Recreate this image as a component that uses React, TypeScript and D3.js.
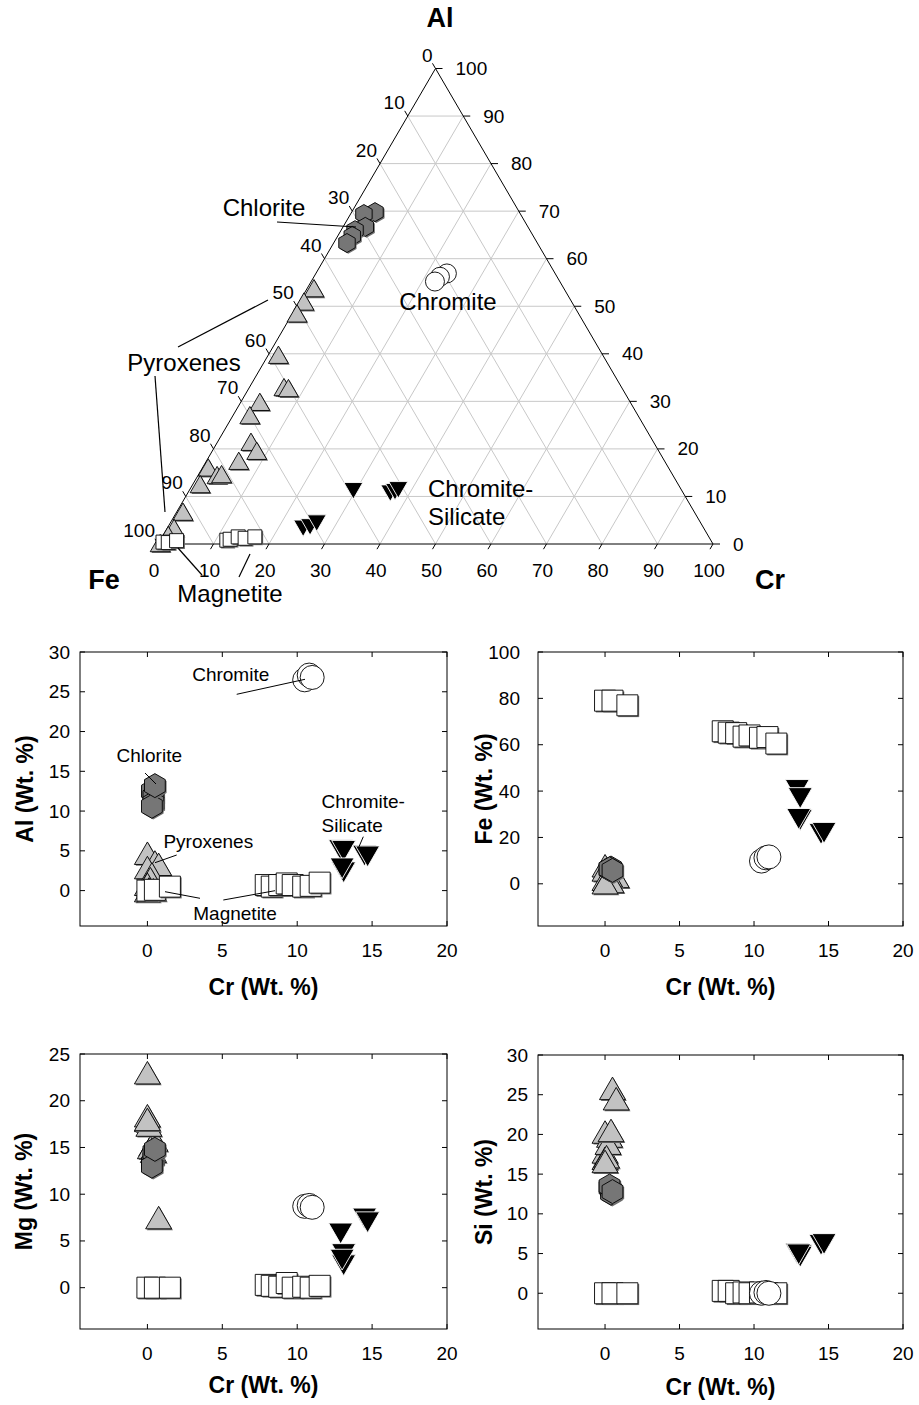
import React from 'react';
import * as d3 from 'd3';

const FONT = '"Liberation Sans", Arial, Helvetica, sans-serif';
const W = 919;
const H = 1405;

// ---------- Ternary compositions, [Al, Cr, Fe] in percent ----------
const ternPyroxenes: [number, number, number][] = [
  [53.8, 1.2, 45.0], [51.0, 0.8, 48.2], [48.5, 0.8, 50.7], [39.8, 1.8, 58.4],
  [33.0, 6.2, 60.8], [32.8, 7.1, 60.1], [29.9, 3.4, 66.7], [27.1, 3.0, 69.9],
  [21.5, 6.0, 72.5], [19.6, 8.0, 72.4], [17.5, 5.8, 76.7], [16.1, 1.0, 82.9],
  [14.5, 3.4, 82.1], [14.7, 4.1, 81.2], [12.6, 1.3, 86.1], [6.8, 1.1, 92.1],
  [3.4, 1.2, 95.4], [1.9, 0.9, 97.2], [0.2, 0.3, 99.5],
];
const ternChlorite: [number, number, number][] = [
  [69.8, 4.2, 26.0], [69.4, 2.4, 28.2], [66.7, 4.0, 29.3],
  [66.0, 2.5, 31.5], [64.8, 2.6, 32.6], [63.3, 2.4, 34.3],
];
const ternMagnetite: [number, number, number][] = [
  [0.4, 0.7, 98.9], [0.3, 1.7, 98.0], [0.7, 3.0, 96.3], [0.8, 12.0, 87.2],
  [1.0, 12.5, 86.5], [1.5, 13.7, 84.8], [1.2, 15.1, 83.7], [1.5, 16.7, 81.8],
];
const ternChromite: [number, number, number][] = [
  [56.9, 23.6, 19.5], [56.2, 22.7, 21.1], [55.2, 22.3, 22.5],
];
const ternChromSil: [number, number, number][] = [
  [11.2, 29.6, 59.2], [10.7, 36.5, 52.8], [11.0, 37.2, 51.8], [11.4, 37.6, 51.0],
  [3.3, 24.5, 72.2], [3.6, 25.6, 70.8], [4.4, 26.4, 69.2],
];
const ternTicks = [0, 10, 20, 30, 40, 50, 60, 70, 80, 90, 100];

// ---------- Spot analyses (Wt. %) ----------
type Analysis = { cr: number; al: number; fe: number; mg: number; si: number };

const pyroxenes: Analysis[] = [
  { cr: 0.0, al: 4.7, fe: 7.8, mg: 23.0, si: 20.3 },
  { cr: 0.5, al: 3.6, fe: 4.8, mg: 15.8, si: 25.8 },
  { cr: 0.75, al: 3.3, fe: 3.2, mg: 7.5, si: 24.5 },
  { cr: 0.0, al: 2.9, fe: 6.0, mg: 18.4, si: 17.8 },
  { cr: 0.3, al: 2.1, fe: 3.5, mg: 15.3, si: 19.8 },
  { cr: 0.2, al: 1.5, fe: 2.5, mg: 15.0, si: 18.9 },
  { cr: 0.0, al: 0.8, fe: 2.0, mg: 17.9, si: 17.0 },
  { cr: 0.1, al: 0.2, fe: 1.5, mg: 17.4, si: 17.2 },
  { cr: 0.4, al: 0.1, fe: 1.0, mg: 14.6, si: 20.5 },
  { cr: 0.0, al: 0.0, fe: 0.5, mg: 18.0, si: 16.6 },
];
const chlorite: Analysis[] = [
  { cr: 0.3, al: 12.5, fe: 6.2, mg: 13.3, si: 13.3 },
  { cr: 0.4, al: 11.8, fe: 6.8, mg: 13.8, si: 13.0 },
  { cr: 0.4, al: 11.0, fe: 6.0, mg: 14.5, si: 12.6 },
  { cr: 0.3, al: 10.6, fe: 6.5, mg: 13.0, si: 13.5 },
  { cr: 0.5, al: 13.2, fe: 5.8, mg: 14.8, si: 12.8 },
];
const magnetite: Analysis[] = [
  { cr: 0.0, al: 0.0, fe: 79.0, mg: 0.0, si: 0.0 },
  { cr: 0.5, al: 0.1, fe: 79.0, mg: 0.0, si: 0.0 },
  { cr: 1.5, al: 0.5, fe: 77.0, mg: 0.0, si: 0.0 },
  { cr: 7.9, al: 0.7, fe: 65.8, mg: 0.3, si: 0.3 },
  { cr: 8.3, al: 0.5, fe: 65.2, mg: 0.2, si: 0.3 },
  { cr: 8.8, al: 0.7, fe: 65.0, mg: 0.1, si: 0.0 },
  { cr: 9.3, al: 0.9, fe: 63.5, mg: 0.5, si: 0.1 },
  { cr: 9.7, al: 0.7, fe: 64.0, mg: 0.0, si: 0.0 },
  { cr: 10.4, al: 0.5, fe: 63.0, mg: 0.1, si: 0.1 },
  { cr: 10.9, al: 0.6, fe: 63.3, mg: 0.0, si: 0.0 },
  { cr: 11.5, al: 1.0, fe: 60.5, mg: 0.2, si: 0.0 },
];
const chromite: Analysis[] = [
  { cr: 10.5, al: 26.5, fe: 9.8, mg: 8.7, si: 0.0 },
  { cr: 10.8, al: 27.1, fe: 11.2, mg: 8.8, si: 0.1 },
  { cr: 11.0, al: 26.8, fe: 11.6, mg: 8.6, si: 0.0 },
];
const chromSil: Analysis[] = [
  { cr: 12.9, al: 5.1, fe: 40.5, mg: 5.8, si: 5.0 },
  { cr: 13.1, al: 5.0, fe: 37.0, mg: 3.6, si: 4.8 },
  { cr: 13.1, al: 2.3, fe: 27.5, mg: 2.4, si: 4.6 },
  { cr: 13.0, al: 2.8, fe: 28.0, mg: 3.0, si: 4.9 },
  { cr: 14.5, al: 4.4, fe: 21.5, mg: 7.4, si: 6.1 },
  { cr: 14.7, al: 4.3, fe: 22.0, mg: 7.0, si: 6.2 },
];

const crTicks = [0, 5, 10, 15, 20];
const alTicks = [0, 5, 10, 15, 20, 25, 30];
const feTicks = [0, 20, 40, 60, 80, 100];
const mgTicks = [0, 5, 10, 15, 20, 25];
const siTicks = [0, 5, 10, 15, 20, 25, 30];

// ---------- Marker shapes ----------
type Kind = 'tri' | 'inv' | 'sq' | 'hex' | 'circ';

const STYLE: Record<Kind, { fill: string; stroke: string; shadow: boolean }> = {
  tri: { fill: '#c2c2c2', stroke: '#000', shadow: true },
  hex: { fill: '#767676', stroke: '#000', shadow: true },
  sq: { fill: '#fff', stroke: '#000', shadow: true },
  circ: { fill: '#fff', stroke: '#000', shadow: false },
  inv: { fill: '#000', stroke: '#fff', shadow: false },
};

function shapePath(kind: Kind, s: number): string {
  const p = d3.path();
  if (kind === 'tri' || kind === 'inv') {
    const h = s * 0.866;
    const d = kind === 'tri' ? 1 : -1;
    p.moveTo(0, (-d * h) / 2);
    p.lineTo(s / 2, (d * h) / 2);
    p.lineTo(-s / 2, (d * h) / 2);
    p.closePath();
  } else if (kind === 'sq') {
    p.rect(-s / 2, -s / 2, s, s);
  } else if (kind === 'hex') {
    const r = s / 2;
    for (let k = 0; k < 6; k++) {
      const a = ((-90 + 60 * k) * Math.PI) / 180;
      const x = r * Math.cos(a);
      const y = r * Math.sin(a);
      if (k === 0) p.moveTo(x, y);
      else p.lineTo(x, y);
    }
    p.closePath();
  } else {
    p.arc(0, 0, s / 2, 0, Math.PI * 2);
    p.closePath();
  }
  return p.toString();
}

function Marker({ x, y, kind, size }: { x: number; y: number; kind: Kind; size: number }) {
  const st = STYLE[kind];
  const d = shapePath(kind, size);
  return (
    <g transform={`translate(${x},${y})`}>
      {st.shadow && <path d={d} transform="translate(1.3,1.3)" fill="#6e6e6e" />}
      <path d={d} fill={st.fill} stroke={st.stroke} strokeWidth={0.9} />
    </g>
  );
}

// ---------- Ternary diagram ----------
const TRI = { left: 158, right: 713, base: 544, apex: 68.5 };
const tx = d3.scaleLinear().domain([0, 100]).range([TRI.left, TRI.right]);
const ty = d3.scaleLinear().domain([0, 100]).range([TRI.base, TRI.apex]);
const proj = (al: number, cr: number): [number, number] => [tx(cr + al / 2), ty(al)];

const edgeLen = Math.hypot(tx(50) - tx(0), ty(100) - ty(0));
const ux = (tx(50) - tx(0)) / edgeLen; // unit vector along the Fe-Al edge
const uy = (ty(100) - ty(0)) / edgeLen;

function Ternary() {
  const grid: [number, number, number, number][] = [];
  for (const k of ternTicks.slice(1, -1)) {
    const a1 = proj(k, 0), a2 = proj(k, 100 - k);
    grid.push([a1[0], a1[1], a2[0], a2[1]]);
    const c1 = proj(0, k), c2 = proj(100 - k, k);
    grid.push([c1[0], c1[1], c2[0], c2[1]]);
    const f1 = proj(0, 100 - k), f2 = proj(100 - k, 0);
    grid.push([f1[0], f1[1], f2[0], f2[1]]);
  }
  const A = proj(100, 0), L = proj(0, 0), R = proj(0, 100);
  const TL = 6;
  const series: { pts: [number, number, number][]; kind: Kind; size: number }[] = [
    { pts: ternPyroxenes, kind: 'tri', size: 20 },
    { pts: ternChlorite, kind: 'hex', size: 19 },
    { pts: ternChromite, kind: 'circ', size: 19 },
    { pts: ternChromSil, kind: 'inv', size: 19 },
    { pts: ternMagnetite, kind: 'sq', size: 14 },
  ];
  const labelStyle = { fontFamily: FONT, fontSize: 19, fill: '#000' } as const;
  const noteStyle = { fontFamily: FONT, fontSize: 24, fill: '#000' } as const;
  return (
    <g>
      {grid.map((g, i) => (
        <line key={i} x1={g[0]} y1={g[1]} x2={g[2]} y2={g[3]} stroke="#c8c8c8" strokeWidth={1} />
      ))}
      <path d={`M${A[0]},${A[1]}L${R[0]},${R[1]}L${L[0]},${L[1]}Z`} fill="none" stroke="#000" strokeWidth={1} />
      {ternTicks.map((k) => {
        const [bx, by] = proj(0, k);
        const [rx, ry] = proj(k, 100 - k);
        const [lx, ly] = proj(100 - k, 0);
        return (
          <g key={k}>
            <line x1={bx} y1={by} x2={bx - ux * TL} y2={by - uy * TL} stroke="#000" />
            <text x={bx - 4} y={570} textAnchor="middle" dominantBaseline="central" {...labelStyle}>{k}</text>
            <line x1={rx} y1={ry} x2={rx + 7} y2={ry} stroke="#000" />
            <text x={rx + 20} y={ry} dominantBaseline="central" {...labelStyle}>{k}</text>
            <line x1={lx} y1={ly} x2={lx - ux * TL} y2={ly + uy * TL} stroke="#000" />
            <text x={lx - 3} y={ly - 13.5} textAnchor="end" dominantBaseline="central" {...labelStyle}>{k}</text>
          </g>
        );
      })}
      {series.map((s, si) =>
        s.pts.map((p, i) => {
          const [x, y] = proj(p[0], p[1]);
          return <Marker key={`${si}-${i}`} x={x} y={y} kind={s.kind} size={s.size} />;
        })
      )}
      <text x={440} y={18} textAnchor="middle" dominantBaseline="central" fontFamily={FONT} fontSize={27} fontWeight="bold">Al</text>
      <text x={104} y={580} textAnchor="middle" dominantBaseline="central" fontFamily={FONT} fontSize={27} fontWeight="bold">Fe</text>
      <text x={770} y={580} textAnchor="middle" dominantBaseline="central" fontFamily={FONT} fontSize={27} fontWeight="bold">Cr</text>

      <g stroke="#000" strokeWidth={1.2}>
        <line x1={277} y1={222} x2={356} y2={227} />
        <line x1={178} y1={347} x2={268} y2={300} />
        <line x1={155} y1={376} x2={165} y2={512} />
        <line x1={178} y1={548} x2={202} y2={575} />
        <line x1={250} y1={554} x2={239} y2={577} />
      </g>
      <text x={264} y={207} textAnchor="middle" dominantBaseline="central" {...noteStyle}>Chlorite</text>
      <text x={448} y={301} textAnchor="middle" dominantBaseline="central" {...noteStyle}>Chromite</text>
      <text x={184} y={362} textAnchor="middle" dominantBaseline="central" {...noteStyle}>Pyroxenes</text>
      <text x={428} y={488} dominantBaseline="central" {...noteStyle}>Chromite-</text>
      <text x={428} y={516} dominantBaseline="central" {...noteStyle}>Silicate</text>
      <text x={230} y={593} textAnchor="middle" dominantBaseline="central" {...noteStyle}>Magnetite</text>
    </g>
  );
}

// ---------- Bivariate panels ----------
type Elem = 'al' | 'fe' | 'mg' | 'si';
type Panel = {
  key: Elem; title: string; yDomain: [number, number]; yTicks: number[];
  x0: number; x1: number; y0: number; y1: number; gap: number; titleX: number; titleY: number;
};

const panels: Panel[] = [
  { key: 'al', title: 'Al (Wt. %)', yDomain: [-4.45, 30], yTicks: alTicks, x0: 80, x1: 447, y0: 652, y1: 926, gap: 10, titleX: 25, titleY: 987 },
  { key: 'fe', title: 'Fe (Wt. %)', yDomain: [-18.2, 100], yTicks: feTicks, x0: 538, x1: 903, y0: 652, y1: 926, gap: 18, titleX: 484, titleY: 987 },
  { key: 'mg', title: 'Mg (Wt. %)', yDomain: [-4.42, 25], yTicks: mgTicks, x0: 80, x1: 447, y0: 1054, y1: 1329, gap: 10, titleX: 24, titleY: 1385 },
  { key: 'si', title: 'Si (Wt. %)', yDomain: [-4.5, 30], yTicks: siTicks, x0: 538, x1: 903, y0: 1055, y1: 1329, gap: 10, titleX: 484, titleY: 1387 },
];

const scatterSeries: { rows: Analysis[]; kind: Kind; size: number }[] = [
  { rows: pyroxenes, kind: 'tri', size: 26 },
  { rows: chlorite, kind: 'hex', size: 24 },
  { rows: magnetite, kind: 'sq', size: 21 },
  { rows: chromite, kind: 'circ', size: 24 },
  { rows: chromSil, kind: 'inv', size: 24 },
];

function ScatterPanel({ p, children }: { p: Panel; children?: React.ReactNode }) {
  const x = d3.scaleLinear().domain([-4.5, 20]).range([p.x0, p.x1]);
  const y = d3.scaleLinear().domain(p.yDomain).range([p.y1, p.y0]);
  const TK = 5;
  const tickStyle = { fontFamily: FONT, fontSize: 19, fill: '#000' } as const;
  return (
    <g>
      {crTicks.map((t) => (
        <g key={`x${t}`}>
          <line x1={x(t)} y1={p.y1} x2={x(t)} y2={p.y1 - TK} stroke="#000" />
          <line x1={x(t)} y1={p.y0} x2={x(t)} y2={p.y0 + TK} stroke="#000" />
          <text x={x(t)} y={p.y1 + 24} textAnchor="middle" dominantBaseline="central" {...tickStyle}>{t}</text>
        </g>
      ))}
      {p.yTicks.map((t) => (
        <g key={`y${t}`}>
          <line x1={p.x0} y1={y(t)} x2={p.x0 + TK} y2={y(t)} stroke="#000" />
          <line x1={p.x1} y1={y(t)} x2={p.x1 - TK} y2={y(t)} stroke="#000" />
          <text x={p.x0 - p.gap} y={y(t)} textAnchor="end" dominantBaseline="central" {...tickStyle}>{t}</text>
        </g>
      ))}
      {scatterSeries.map((s, si) =>
        s.rows.map((r, i) => (
          <Marker key={`${si}-${i}`} x={x(r.cr)} y={y(r[p.key])} kind={s.kind} size={s.size} />
        ))
      )}
      <rect x={p.x0} y={p.y0} width={p.x1 - p.x0} height={p.y1 - p.y0} fill="none" stroke="#000" strokeWidth={1} />
      <text x={(p.x0 + p.x1) / 2} y={p.titleY} textAnchor="middle" dominantBaseline="central" fontFamily={FONT} fontSize={23} fontWeight="bold">Cr (Wt. %)</text>
      <text transform={`translate(${p.titleX},${(p.y0 + p.y1) / 2}) rotate(-90)`} textAnchor="middle" dominantBaseline="central" fontFamily={FONT} fontSize={23} fontWeight="bold">{p.title}</text>
      {children}
    </g>
  );
}

function AlNotes() {
  const st = { fontFamily: FONT, fontSize: 19, fill: '#000' } as const;
  return (
    <g>
      <g stroke="#000" strokeWidth={1}>
        <line x1={236.7} y1={694.3} x2={305} y2={679.3} />
        <line x1={145} y1={773} x2={156} y2={784} />
        <line x1={176.7} y1={855} x2={155} y2={862.7} />
        <line x1={200} y1={898.3} x2={165} y2={891.7} />
        <line x1={223.3} y1={900} x2={275} y2={890.7} />
        <line x1={363.3} y1={836.7} x2={358.3} y2={848.3} />
      </g>
      <text x={230.7} y={674.3} textAnchor="middle" dominantBaseline="central" {...st}>Chromite</text>
      <text x={149.3} y={755} textAnchor="middle" dominantBaseline="central" {...st}>Chlorite</text>
      <text x={208.3} y={841.7} textAnchor="middle" dominantBaseline="central" {...st}>Pyroxenes</text>
      <text x={235} y={913.3} textAnchor="middle" dominantBaseline="central" {...st}>Magnetite</text>
      <text x={321.5} y={801.7} dominantBaseline="central" {...st}>Chromite-</text>
      <text x={321.5} y={825.7} dominantBaseline="central" {...st}>Silicate</text>
    </g>
  );
}

export default function App() {
  return (
    <svg
      width={W}
      height={H}
      viewBox={`0 0 ${W} ${H}`}
      style={{ position: 'absolute', left: 0, top: 0, background: '#fff', display: 'block' }}
    >
      <rect x={0} y={0} width={W} height={H} fill="#fff" />
      <Ternary />
      {panels.map((p) => (
        <ScatterPanel key={p.key} p={p}>{p.key === 'al' ? <AlNotes /> : null}</ScatterPanel>
      ))}
    </svg>
  );
}
